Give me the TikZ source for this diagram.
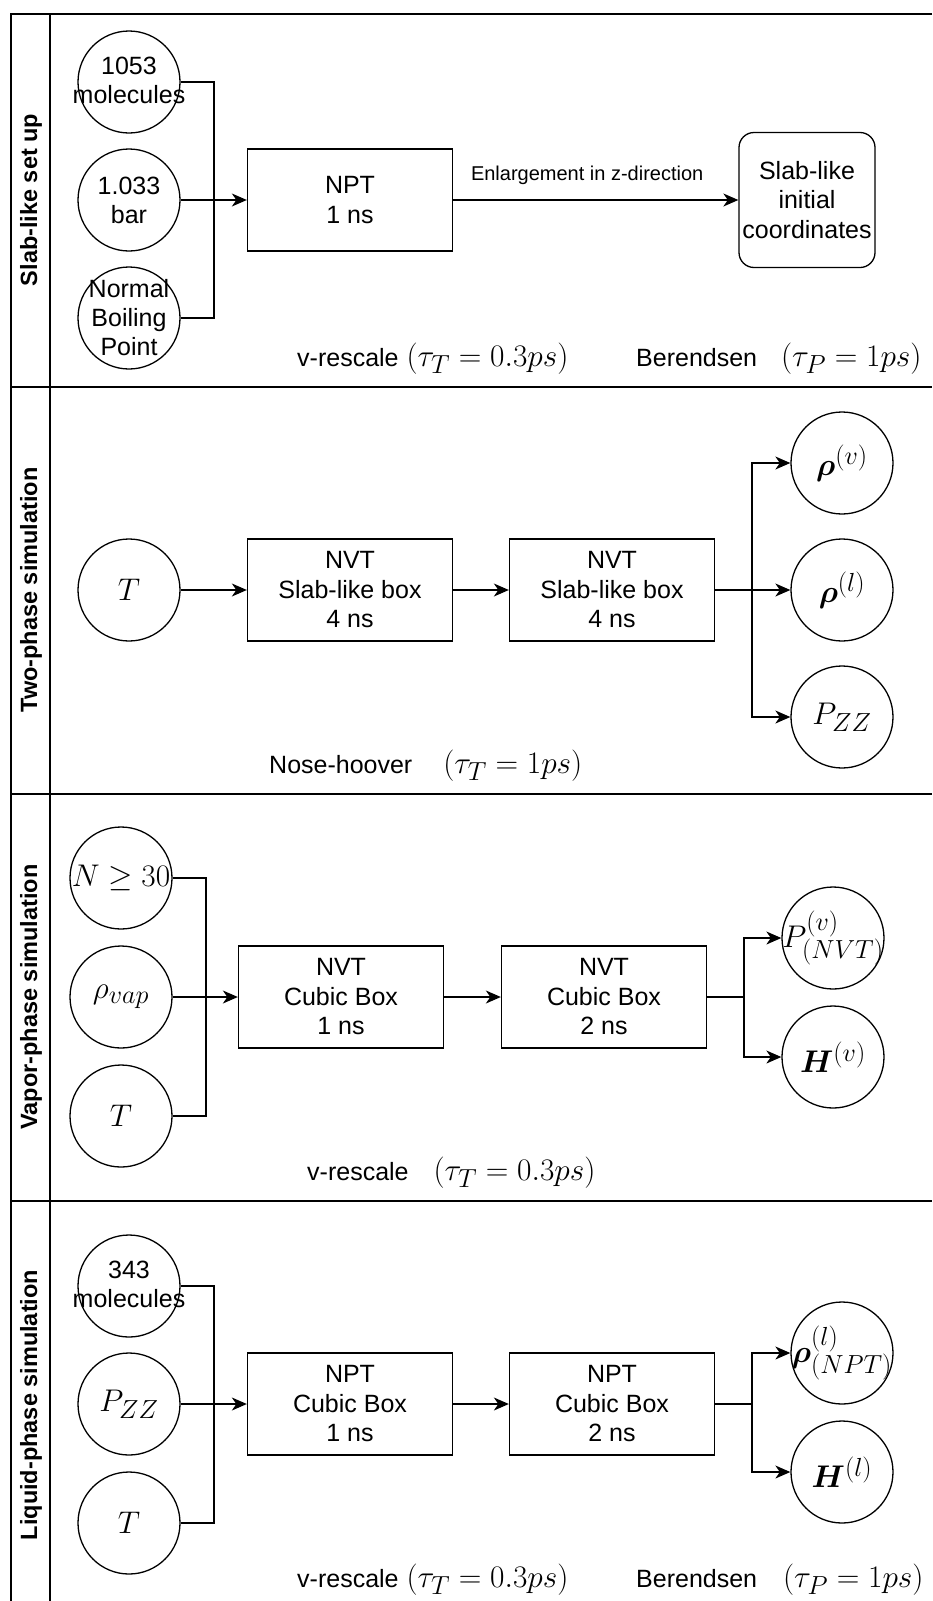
\documentclass[tikz,border=0pt]{standalone}
\usepackage[no-math]{fontspec}
\newfontfamily\hv{Liberation Sans}
\usepackage{bm}
\usepackage{graphicx}
\usetikzlibrary{arrows.meta}
\newcommand{\mth}[1]{\scalebox{1.26}{\fontsize{24.88}{30}\selectfont$#1$}}
\tikzset{
 lane/.style={line width=1.8pt},
 inp/.style={circle, draw, line width=1.3pt, minimum size=102pt, inner sep=0pt},
 ctext/.style={font=\hv\fontsize{25}{29}\selectfont, align=center, inner sep=0pt},
 proc/.style={rectangle, draw, line width=1.3pt, minimum width=205pt, minimum height=102pt, inner sep=0pt, align=center, font=\hv\fontsize{25}{29.5}\selectfont},
 conn/.style={line width=1.3pt},
 arr/.style={conn, -{Stealth[length=15pt,width=13pt,inset=4.5pt]}},
 lanelabel/.style={rotate=90, font=\hv\bfseries\fontsize{23.5}{28}\selectfont},
 note/.style={anchor=base west, inner sep=0pt, font=\hv\fontsize{25}{30}\selectfont},
}
\begin{document}
\begin{tikzpicture}[x=1pt,y=-1pt]
\useasboundingbox (0,0) rectangle (932,1601);
% lanes
\draw[lane] (932,14) -- (11,14) -- (11,1601);
\draw[lane] (50,14) -- (50,1601);
\draw[lane] (11,387) -- (932,387);
\draw[lane] (11,794) -- (932,794);
\draw[lane] (11,1201) -- (932,1201);
\node[lanelabel] (l1) at (31,200) {Slab-like set up};
\node[lanelabel] (l2) at (31,590) {Two-phase simulation};
\node[lanelabel] (l3) at (31,997) {Vapor-phase simulation};
\node[lanelabel] (l4) at (31,1405) {Liquid-phase simulation};

% ---- lane 1
\node[inp] (a1) at (129,82) {};
\node[inp] (a2) at (129,200) {};
\node[inp] (a3) at (129,318) {};
\node[ctext] (a1t) at (129,80) {1053\\molecules};
\node[ctext] (a2t) at (a2) {1.033\\bar};
\node[ctext] (a3t) at (a3) {Normal\\Boiling\\Point};
\node[proc] (npt1) at (350,200) {NPT\\1 ns};
\node[proc, rounded corners=15pt, minimum width=136pt, minimum height=135pt] (slab) at (807,200) {Slab-like\\initial\\coordinates};
\coordinate (j1) at (214,200);
\draw[conn] (a1.east) -| (j1);
\draw[conn] (a3.east) -| (j1);
\draw[arr] (a2.east) -- (npt1.west);
\draw[arr] (npt1.east) -- node[pos=0.47, anchor=base, yshift=20pt, inner sep=0pt, font=\hv\fontsize{20}{24}\selectfont] (enl) {Enlargement in z-direction} (slab.west);
\node[note] (n1a) at (297,366) {v-rescale\hspace{8pt}\mth{(\tau_T = 0.3ps)}};
\node[note] (n1b) at (636,366) {Berendsen\hspace{24pt}\mth{(\tau_P = 1ps)}};

% ---- lane 2
\node[inp] (b0) at (129,590) {};
\node[ctext] (b0t) at (b0) {\mth{T}};
\node[proc] (nvt1) at (350,590) {NVT\\Slab-like box\\4 ns};
\node[proc] (nvt2) at (612,590) {NVT\\Slab-like box\\4 ns};
\node[inp] (o1) at (842,463) {};
\node[inp] (o2) at (842,590) {};
\node[inp] (o3) at (842,717) {};
\node[ctext] (o1t) at (o1) {\mth{\bm{\rho}^{(v)}}};
\node[ctext] (o2t) at (o2) {\mth{\bm{\rho}^{(l)}}};
\node[ctext] (o3t) at (o3) {\mth{P_{ZZ}}};
\draw[arr] (b0.east) -- (nvt1.west);
\draw[arr] (nvt1.east) -- (nvt2.west);
\coordinate (k2) at (752,590);
\draw[arr] (nvt2.east) -- (o2.west);
\draw[arr] (k2) |- (o1.west);
\draw[arr] (k2) |- (o3.west);
\node[note] (n2) at (269,773) {Nose-hoover\hspace{31pt}\mth{(\tau_T = 1ps)}};

% ---- lane 3
\node[inp] (c1) at (121,878) {};
\node[inp] (c2) at (121,997) {};
\node[inp] (c3) at (121,1116) {};
\node[ctext] (c1t) at (c1) {\mth{N \geq 30}};
\node[ctext] (c2t) at (c2) {\mth{\rho_{vap}}};
\node[ctext] (c3t) at (c3) {\mth{T}};
\node[proc] (cb1) at (341,997) {NVT\\Cubic Box\\1 ns};
\node[proc] (cb2) at (604,997) {NVT\\Cubic Box\\2 ns};
\node[inp] (p1) at (833,938) {};
\node[inp] (p2) at (833,1057) {};
\node[ctext] (p1t) at (p1) {\mth{P^{(v)}_{(NVT)}}};
\node[ctext] (p2t) at (p2) {\mth{\bm{H}^{(v)}}};
\coordinate (j3) at (206,997);
\draw[conn] (c1.east) -| (j3);
\draw[conn] (c3.east) -| (j3);
\draw[arr] (c2.east) -- (cb1.west);
\draw[arr] (cb1.east) -- (cb2.west);
\coordinate (k3) at (744,997);
\draw[conn] (cb2.east) -- (k3);
\draw[arr] (k3) |- (p1.west);
\draw[arr] (k3) |- (p2.west);
\node[note] (n3) at (307,1180) {v-rescale\hspace{25pt}\mth{(\tau_T = 0.3ps)}};

% ---- lane 4
\node[inp] (d1) at (129,1286) {};
\node[inp] (d2) at (129,1404) {};
\node[inp] (d3) at (129,1523) {};
\node[ctext] (d1t) at (129,1284) {343\\molecules};
\node[ctext] (d2t) at (d2) {\mth{P_{ZZ}}};
\node[ctext] (d3t) at (d3) {\mth{T}};
\node[proc] (lb1) at (350,1404) {NPT\\Cubic Box\\1 ns};
\node[proc] (lb2) at (612,1404) {NPT\\Cubic Box\\2 ns};
\node[inp] (q1) at (842,1353) {};
\node[inp] (q2) at (842,1472) {};
\node[ctext] (q1t) at (q1) {\mth{\bm{\rho}^{(l)}_{(NPT)}}};
\node[ctext] (q2t) at (q2) {\mth{\bm{H}^{(l)}}};
\coordinate (j4) at (214,1404);
\draw[conn] (d1.east) -| (j4);
\draw[conn] (d3.east) -| (j4);
\draw[arr] (d2.east) -- (lb1.west);
\draw[arr] (lb1.east) -- (lb2.west);
\coordinate (k4) at (752,1404);
\draw[conn] (lb2.east) -- (k4);
\draw[arr] (k4) |- (q1.west);
\draw[arr] (k4) |- (q2.west);
\node[note] (n4a) at (297,1587) {v-rescale\hspace{8pt}\mth{(\tau_T = 0.3ps)}};
\node[note] (n4b) at (636,1587) {Berendsen\hspace{26pt}\mth{(\tau_P = 1ps)}};
\end{tikzpicture}
\end{document}
